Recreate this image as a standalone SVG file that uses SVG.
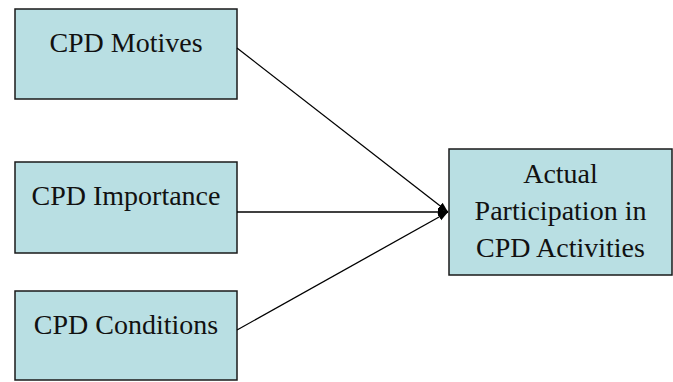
<svg xmlns="http://www.w3.org/2000/svg" width="673" height="382" viewBox="0 0 673 382">
<style>
.box{fill:#b9dfe3;stroke:#1a1a1a;stroke-width:1.5}
.t{font-family:"Liberation Serif","Times New Roman",serif;font-size:28px;fill:#111;text-anchor:middle}
.c{stroke:#000;stroke-width:1.3;fill:none}
</style>
<defs>
<marker id="ah" viewBox="0 0 10 10" refX="10" refY="5" markerWidth="10" markerHeight="10" markerUnits="userSpaceOnUse" orient="auto">
<path d="M0,1 L10,5 L0,9 Z" fill="#000"/>
</marker>
</defs>
<rect width="673" height="382" fill="#fff"/>
<g id="motives">
<rect class="box" x="15" y="9" width="222" height="90"/>
<text class="t" x="126" y="52">CPD Motives</text>
</g>
<g id="importance">
<rect class="box" x="15" y="162" width="222" height="91"/>
<text class="t" x="126" y="205">CPD Importance</text>
</g>
<g id="conditions">
<rect class="box" x="15" y="291" width="222" height="89"/>
<text class="t" x="126" y="334">CPD Conditions</text>
</g>
<g id="actual">
<rect class="box" x="449" y="149" width="223" height="126"/>
<text class="t" x="560.5" y="183">Actual</text>
<text class="t" x="560.5" y="220">Participation in</text>
<text class="t" x="560.5" y="257">CPD Activities</text>
</g>
<g id="connectors">
<line class="c" x1="237" y1="48" x2="448" y2="212" marker-end="url(#ah)"/>
<line class="c" x1="237" y1="212" x2="448" y2="212" marker-end="url(#ah)"/>
<line class="c" x1="237" y1="330" x2="448" y2="212" marker-end="url(#ah)"/>
</g>
</svg>
